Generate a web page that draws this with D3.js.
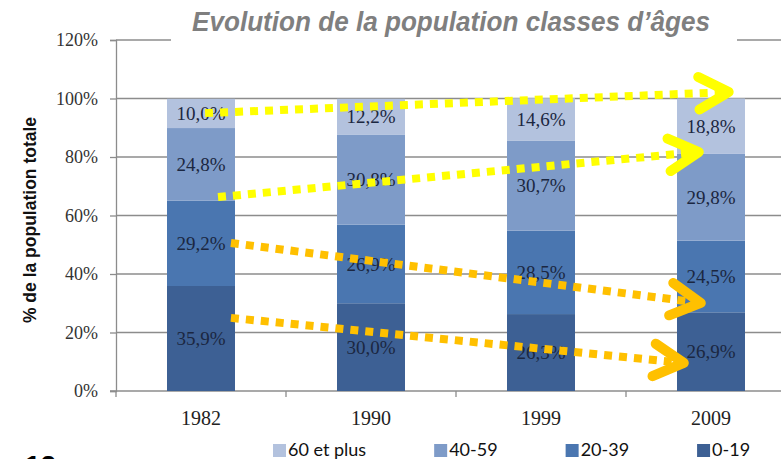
<!DOCTYPE html>
<html>
<head>
<meta charset="utf-8">
<script src="https://cdn.jsdelivr.net/npm/d3@7"></script>
<style>
  body { margin: 0; background: #fff; }
  svg { display: block; }
</style>
</head>
<body>
<div id="chart"></div>
<script>
// Chart data
var years = ['1982', '1990', '1999', '2009'];
var ageGroups = ['0-19', '20-39', '40-59', '60 et plus'];
var share0_19 = [35.9, 30.0, 26.3, 26.9];
var share20_39 = [29.2, 26.9, 28.5, 24.5];
var share40_59 = [24.8, 30.8, 30.7, 29.8];
var share60plus = [10.0, 12.2, 14.6, 18.8];
var yTicks = [0, 20, 40, 60, 80, 100, 120];
var legendOrder = ['60 et plus', '40-59', '20-39', '0-19'];

// Trend arrows drawn on top (year + value, offset as a fraction of the bar width)
var trends = [
  {from: '1982', f0: 0.56, v0: 95.0, to: '2009', f1: 0.76, v1: 102.2, color: '#ffff00'},
  {from: '1982', f0: 0.75, v0: 66.3, to: '2009', f1: 0.32, v1: 81.7, color: '#ffff00'},
  {from: '1982', f0: 0.94, v0: 50.6, to: '2009', f1: 0.35, v1: 30.1, color: '#ffc000'},
  {from: '1982', f0: 0.94, v0: 25.0, to: '2009', f1: 0.10, v1: 9.6, color: '#ffc000'}
];

var width = 781, height = 459;
var colors = {'0-19': '#3d6094', '20-39': '#4a76b0', '40-59': '#7e9bc8', '60 et plus': '#b3c2de'};

var table = years.map(function(y, i) {
  return {year: y, '0-19': share0_19[i], '20-39': share20_39[i], '40-59': share40_59[i], '60 et plus': share60plus[i]};
});

var svg = d3.select('#chart').append('svg')
  .attr('width', width)
  .attr('height', height);

var x = d3.scaleBand()
  .domain(years)
  .range([116, 796])
  .paddingInner(0.6)
  .paddingOuter(0.3);

var y = d3.scaleLinear()
  .domain([0, 120])
  .range([391, 40]);

// gridlines
svg.append('g')
  .selectAll('line')
  .data(yTicks.slice(1))
  .enter().append('line')
  .attr('x1', 116).attr('x2', width)
  .attr('y1', function(d) { return y(d); })
  .attr('y2', function(d) { return y(d); })
  .attr('stroke', '#8c8c8c')
  .attr('stroke-width', 1.3);

// y axis
var yAxis = svg.append('g')
  .attr('transform', 'translate(116,0)')
  .call(d3.axisLeft(y).tickValues(yTicks).tickSize(6).tickPadding(12)
    .tickFormat(function(d) { return d + '%'; }));
yAxis.selectAll('path, line').attr('stroke', '#8c8c8c').attr('stroke-width', 1.3);
yAxis.selectAll('text')
  .attr('font-family', '"Liberation Serif", serif')
  .attr('font-size', 18)
  .attr('fill', '#333');

// x axis (ticks between categories)
var xAxis = svg.append('g')
  .attr('transform', 'translate(0,391)');
xAxis.append('line')
  .attr('x1', 110).attr('x2', width)
  .attr('stroke', '#8c8c8c').attr('stroke-width', 1.3);
xAxis.selectAll('.tk')
  .data(years)
  .enter().append('line')
  .attr('class', 'tk')
  .attr('x1', function(d) { return x(d) - x.step() * x.paddingInner() / 2; })
  .attr('x2', function(d) { return x(d) - x.step() * x.paddingInner() / 2; })
  .attr('y1', 0).attr('y2', 6)
  .attr('stroke', '#8c8c8c').attr('stroke-width', 1.3);
xAxis.selectAll('text')
  .data(years)
  .enter().append('text')
  .attr('x', function(d) { return x(d) + x.bandwidth() / 2; })
  .attr('y', 34)
  .attr('text-anchor', 'middle')
  .attr('font-family', '"Liberation Serif", serif')
  .attr('font-size', 20)
  .attr('fill', '#222')
  .text(function(d) { return d; });

// stacked bars
var series = d3.stack().keys(ageGroups)(table);
var fmt = d3.format('.1f');

var layers = svg.append('g')
  .selectAll('g')
  .data(series)
  .enter().append('g')
  .attr('fill', function(d) { return colors[d.key]; });

layers.selectAll('rect')
  .data(function(d) { return d; })
  .enter().append('rect')
  .attr('x', function(d) { return x(d.data.year); })
  .attr('width', x.bandwidth())
  .attr('y', function(d) { return y(d[1]); })
  .attr('height', function(d) { return y(d[0]) - y(d[1]); });

layers.selectAll('text')
  .data(function(d) { return d; })
  .enter().append('text')
  .attr('x', function(d) { return x(d.data.year) + x.bandwidth() / 2; })
  .attr('y', function(d) { return y((d[0] + d[1]) / 2); })
  .attr('dy', '0.35em')
  .attr('text-anchor', 'middle')
  .attr('font-family', '"Liberation Serif", serif')
  .attr('font-size', 19)
  .attr('fill', '#1b2741')
  .text(function(d) { return fmt(d[1] - d[0]).replace('.', ',') + '%'; });

// title (white box hides the 120% gridline)
svg.append('rect')
  .attr('x', 171).attr('y', 0)
  .attr('width', 566).attr('height', 48)
  .attr('fill', '#fff');
svg.append('text')
  .attr('x', 192).attr('y', 31)
  .attr('font-family', '"Liberation Sans", Arial, sans-serif')
  .attr('font-weight', 'bold')
  .attr('font-style', 'italic')
  .attr('font-size', 28)
  .attr('fill', '#7f7f7f')
  .attr('textLength', 518)
  .attr('lengthAdjust', 'spacingAndGlyphs')
  .text('Evolution de la population classes d’âges');

// y axis title
svg.append('text')
  .attr('transform', 'translate(36,220) rotate(-90)')
  .attr('text-anchor', 'middle')
  .attr('font-family', '"Liberation Sans", Arial, sans-serif')
  .attr('font-weight', 'bold')
  .attr('font-size', 17.5)
  .attr('fill', '#111')
  .text('% de la population totale');

// legend
var lx = 273;
legendOrder.forEach(function(k) {
  svg.append('rect')
    .attr('x', lx).attr('y', 444)
    .attr('width', 13).attr('height', 13)
    .attr('fill', colors[k]);
  var t = svg.append('text')
    .attr('x', lx + 15).attr('y', 456)
    .attr('font-family', 'Lato, sans-serif')
    .attr('font-size', 18)
    .attr('fill', '#111')
    .text(k);
  lx += 15 + t.node().getComputedTextLength() + 68;
});

// slide number, cut off at the bottom as in the source slide
svg.append('text')
  .attr('x', 25).attr('y', 475)
  .attr('font-family', '"Liberation Sans", Arial, sans-serif')
  .attr('font-weight', 'bold')
  .attr('font-size', 28)
  .attr('fill', '#000')
  .text('12');

// trend arrows
var arrows = svg.append('g');
trends.forEach(function(t) {
  var x0 = x(t.from) + x.bandwidth() * t.f0, y0 = y(t.v0);
  var x1 = x(t.to) + x.bandwidth() * t.f1, y1 = y(t.v1);
  var ang = Math.atan2(y1 - y0, x1 - x0);
  arrows.append('line')
    .attr('x1', x0).attr('y1', y0)
    .attr('x2', x1 - 10 * Math.cos(ang)).attr('y2', y1 - 10 * Math.sin(ang))
    .attr('stroke', t.color)
    .attr('stroke-width', 8)
    .attr('stroke-dasharray', '8,7');
  var a = 0.5, len = 34;
  var pts = [
    [x1 - len * Math.cos(ang - a), y1 - len * Math.sin(ang - a)],
    [x1, y1],
    [x1 - len * Math.cos(ang + a), y1 - len * Math.sin(ang + a)]
  ];
  arrows.append('path')
    .attr('d', d3.line()(pts))
    .attr('fill', 'none')
    .attr('stroke', t.color)
    .attr('stroke-width', 10)
    .attr('stroke-linecap', 'round')
    .attr('stroke-linejoin', 'round');
});
</script>
</body>
</html>
